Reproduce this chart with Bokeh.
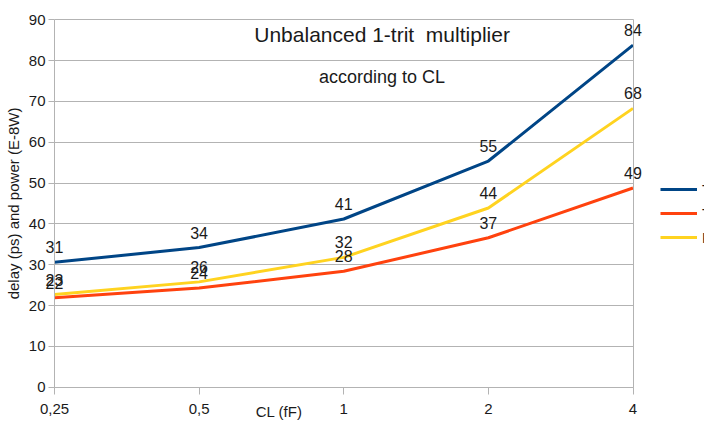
from bokeh.plotting import figure
from bokeh.models import (ColumnDataSource, FixedTicker, Legend, LegendItem,
                          LabelSet, Label, Range1d, LinearAxis, Grid)
from bokeh.core.properties import value
from bokeh.embed import file_html
from bokeh.resources import INLINE

# ---- data ----
categories = ["0,25", "0,5", "1", "2", "4"]
tphl = [30.6, 34.2, 41.2, 55.4, 83.8]
tplh = [21.9, 24.3, 28.4, 36.6, 48.8]
power = [22.7, 25.8, 31.8, 43.9, 68.3]
series_names = ["Tphl", "Tplh", "Power"]
y_ticks = list(range(0, 91, 10))

# ---- style / layout ----
colors = ["#004586", "#ff420e", "#ffd320"]
FONT = "Liberation Sans"
TXT = "#1a1a1a"
GRID = "#b3b3b3"
W, H = 704, 421
X0_PX, X4_PX = 54.0, 632.5      # pixel of first / last category
Y0_PX, Y90_PX = 386.7, 19.3     # pixel of y=0 / y=90

xs = list(range(len(categories)))
nx = len(categories) - 1
ymax = y_ticks[-1]
ppx = (X4_PX - X0_PX) / nx
ppy = (Y0_PX - Y90_PX) / ymax
x_range = Range1d(-X0_PX / ppx, (W - X0_PX) / ppx)
y_range = Range1d(-(H - Y0_PX) / ppy, ymax + Y90_PX / ppy)

p = figure(width=W, height=H, output_backend="svg", toolbar_location=None,
           x_range=x_range, y_range=y_range,
           x_axis_location=None, y_axis_location=None,
           min_border_left=0, min_border_right=0, min_border_top=0,
           min_border_bottom=0)
p.background_fill_color = "white"
p.border_fill_color = "white"
p.outline_line_color = None
p.xgrid.visible = False
p.ygrid.visible = False

# horizontal grid lines limited to the plot area
if "cross_bounds" in Grid.properties():
    g = Grid(dimension=1, ticker=FixedTicker(ticks=y_ticks), bounds=(0, ymax),
             cross_bounds=(0, nx), grid_line_color=GRID, grid_line_width=1)
    p.add_layout(g)
else:
    p.segment(x0=[0] * len(y_ticks), x1=[nx] * len(y_ticks), y0=y_ticks,
              y1=y_ticks, line_color=GRID, line_width=1, level="underlay")

xaxis = LinearAxis(fixed_location=0, bounds=(0, nx),
                   ticker=FixedTicker(ticks=xs),
                   major_label_overrides={i: c for i, c in enumerate(categories)})
yaxis = LinearAxis(fixed_location=0, bounds=(0, ymax),
                   ticker=FixedTicker(ticks=y_ticks))
raxis = LinearAxis(fixed_location=nx, bounds=(0, ymax),
                   ticker=FixedTicker(ticks=[]))
for ax in (xaxis, yaxis, raxis):
    ax.axis_line_color = GRID
    ax.major_tick_line_color = GRID
    ax.minor_tick_line_color = None
    ax.major_tick_in = 0
    ax.major_label_text_font = FONT
    ax.major_label_text_font_size = "15px"
    ax.major_label_text_color = TXT
xaxis.major_tick_out = 7
xaxis.major_label_standoff = 10
yaxis.major_tick_out = 6
yaxis.major_label_standoff = 3
raxis.major_tick_line_color = None
raxis.major_label_text_alpha = 0

yaxis.axis_label = "delay (ps) and power (E-8W)"
yaxis.axis_label_text_font = FONT
yaxis.axis_label_text_font_size = "15px"
yaxis.axis_label_text_font_style = "normal"
yaxis.axis_label_text_color = TXT
yaxis.axis_label_standoff = 4

p.add_layout(xaxis, "below")
p.add_layout(yaxis, "left")
p.add_layout(raxis, "right")

items = []
for name, vals, col in zip(series_names, [tphl, tplh, power], colors):
    src = ColumnDataSource(dict(x=xs, y=vals, lbl=[str(round(v)) for v in vals]))
    r = p.line("x", "y", source=src, line_color=col, line_width=3)
    items.append(LegendItem(label=name, renderers=[r]))
    p.add_layout(LabelSet(x="x", y="y", text="lbl", source=src, y_offset=9,
                          text_align="center", text_baseline="alphabetic",
                          text_font=value(FONT), text_font_size=value("16px"),
                          text_color=TXT))

legend = Legend(items=items, location=(660, 173.7), orientation="vertical",
                padding=0, margin=0, spacing=4, glyph_width=37, glyph_height=20,
                label_height=20, label_standoff=5, label_text_font=FONT,
                label_text_font_size="15px", label_text_color=TXT,
                border_line_color=None, background_fill_alpha=0)
p.add_layout(legend, "center")

p.add_layout(Label(x=2.265, y=86.5, text="Unbalanced 1-trit \u00a0multiplier",
                   text_align="center", text_baseline="middle",
                   text_font=FONT, text_font_size="21px", text_color=TXT))
p.add_layout(Label(x=2.265, y=75.9, text="according to CL",
                   text_align="center", text_baseline="middle",
                   text_font=FONT, text_font_size="18px", text_color=TXT))
p.add_layout(Label(x=1.553, y=-5.9, text="CL (fF)",
                   text_align="center", text_baseline="middle",
                   text_font=FONT, text_font_size="15px", text_color=TXT))

open("out.html", "w").write(file_html(p, INLINE))
